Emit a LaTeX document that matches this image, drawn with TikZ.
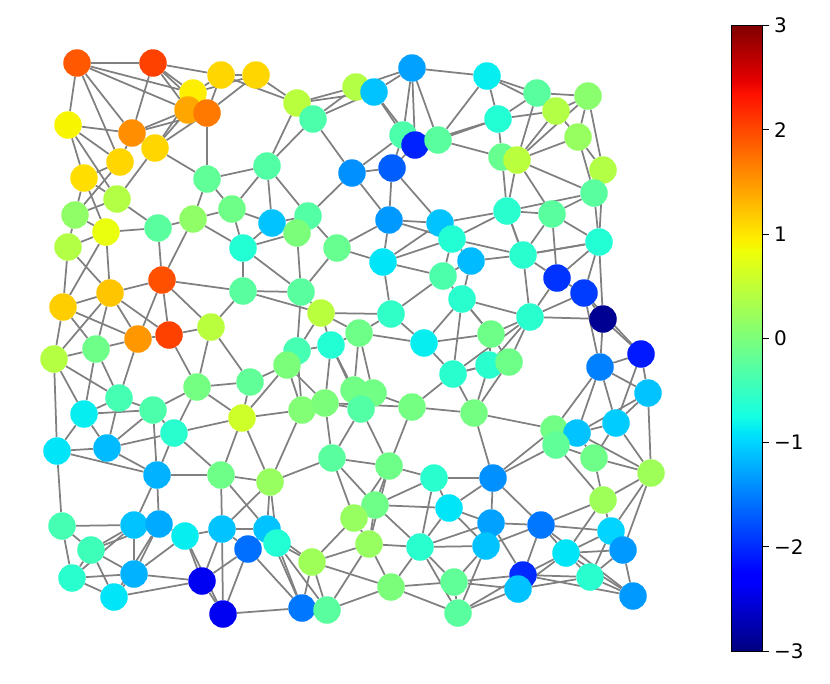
\documentclass[tikz,border=0pt]{standalone}
\usepackage{fontspec}
\setmainfont{DejaVu Sans}
\pgfdeclarelayer{edgelayer}
\pgfsetlayers{edgelayer,main}
\pgfdeclareverticalshading{jetbar}{100bp}{rgb(0bp)=(0,0,0.5); rgb(25bp)=(0,0,0.5); rgb(30.5bp)=(0,0,1); rgb(31.25bp)=(0,0,1); rgb(42bp)=(0,0.86,1); rgb(42.5bp)=(0,0.9,0.97); rgb(43.75bp)=(0.08,1,0.89); rgb(57bp)=(0.94,1,0.03); rgb(57.5bp)=(0.97,0.96,0); rgb(58bp)=(1,0.93,0); rgb(69.5bp)=(1,0.07,0); rgb(70.5bp)=(0.91,0,0); rgb(75bp)=(0.5,0,0); rgb(100bp)=(0.5,0,0)}
\newcommand{\jetset}[1]{%
 \pgfmathsetmacro\jt{(#1+3)/6}%
 \pgfmathsetmacro\jr{max(0,min(1,(\jt-0.35)/0.31,1-0.5*(\jt-0.89)/0.11))}%
 \pgfmathsetmacro\jg{max(0,min(1,(\jt-0.125)/0.25,1-(\jt-0.64)/0.27))}%
 \pgfmathsetmacro\jb{max(0,min(1,0.5+0.5*\jt/0.11,1-(\jt-0.34)/0.31))}%
 \definecolor{jetc}{rgb}{\jr,\jg,\jb}}
\definecolor{edgegray}{RGB}{128,128,128}
\tikzset{
 vert/.style={circle,inner sep=0pt,minimum size=27.5pt,draw=none},
 edgeline/.style={draw=edgegray,line width=1.75pt},
 ticklab/.style={anchor=west,inner sep=0pt,font=\fontsize{20}{24}\selectfont},
 tickline/.style={line width=1pt,black}
}
\begin{document}
\begin{tikzpicture}[x=1pt,y=-1pt]
\useasboundingbox (0,0) rectangle (830,683);
\foreach \n/\px/\py/\v in {
a1/77/63/1.9, a2/153/63/2.05, a3/221/75/1.1, a4/256/75/1.1, a5/193/93/0.95, a6/188/110/1.4, a7/207/113/1.7,
a8/68/125/0.9, a9/132/133/1.55, a10/155/148/1.1, a11/120/162/1.1, a12/84/178/1.05, a13/207/179/-0.2,
a14/117/199/0.4, a15/75/215/0.15, a16/106/232/0.8, a17/158/228/-0.25, a18/193/219/0.15, a19/232/209/-0.1,
a20/267/166/-0.3, a21/68/247/0.4,
b1/297/103/0.45, b2/356/87/0.4, b3/374/92/-1.1, b4/412/68/-1.3, b5/313/119/-0.35, b6/403/135/-0.35,
b7/415/145/-2.05, b8/438/140/-0.25, b9/352/173/-1.4, b10/392/168/-1.7, b11/272/223/-1.1, b12/308/216/-0.3,
b13/297/233/0.0, b14/243/248/-0.65, b15/337/248/-0.15, b16/389/220/-1.35, b17/440/223/-1.1, b18/452/239/-0.65,
c1/487/76/-0.85, c2/537/93/-0.25, c3/588/96/0.1, c4/556/111/0.4, c5/498/119/-0.65, c6/578/137/0.2,
c7/502/157/-0.15, c8/517/160/0.45, c9/603/170/0.4, c10/594/193/-0.25, c11/507/211/-0.6, c12/552/214/-0.25,
c13/599/242/-0.65, c14/523/255/-0.6, c15/471/261/-1.15, c16/383/262/-0.9, c17/443/276/-0.35,
c18/557/278/-1.95, c19/584/293/-1.9, c20/603/319/-2.9,
d1/162/280/1.95, d2/110/293/1.2, d3/63/307/1.15, d4/243/291/-0.25, d5/301/292/-0.25, d6/462/299/-0.6,
d7/321/313/0.45, d8/391/314/-0.55, d9/530/317/-0.6, d10/138/339/1.5, d11/169/335/2.05, d12/211/327/0.45,
d13/96/349/-0.1, d14/54/359/0.42, d15/359/333/-0.1, d16/331/345/-0.65, d17/297/351/-0.4, d18/287/365/0.0,
d19/424/343/-0.85, d20/491/334/-0.1, d21/489/365/-0.6, d22/509/362/-0.1, d23/453/374/-0.6,
d24/641/354/-2.1, d25/600/367/-1.5, d26/648/393/-1.1,
e1/197/387/-0.05, e2/250/382/-0.2, e3/119/398/-0.4, e4/153/410/-0.35, e5/84/414/-0.85, e6/174/433/-0.6,
e7/242/418/0.6, e8/302/410/0.05, e9/325/403/0.0, e10/354/390/-0.07, e11/373/393/-0.07, e12/361/409/-0.3,
e13/412/407/-0.05, e14/474/413/-0.05, e15/554/429/-0.07, e16/577/433/-1.1, e17/616/423/-1.05,
e18/556/445/-0.2, e19/57/451/-0.9, e20/107/448/-1.15,
f1/157/475/-1.2, f2/221/475/-0.1, f3/270/482/0.2, f4/332/458/-0.25, f5/389/466/-0.1, f6/434/478/-0.6,
f7/493/478/-1.4, f8/594/458/-0.1, f9/651/473/0.25, f10/375/505/-0.1, f11/354/518/0.2, f12/449/508/-0.9,
f13/603/500/0.25,
g1/62/526/-0.4, g2/134/525/-1.1, g3/159/524/-1.25, g4/185/536/-0.85, g5/222/529/-1.1, g6/267/529/-1.1,
g7/248/549/-1.6, g8/277/543/-0.65, g9/91/550/-0.45, g10/369/544/0.2, g11/420/547/-0.6, g12/491/523/-1.3,
g13/541/525/-1.55, g14/611/531/-1.0, g15/486/546/-1.1, g16/566/553/-0.9, g17/623/550/-1.35, g18/312/562/0.25,
h1/72/578/-0.6, h2/134/574/-1.2, h3/114/597/-0.9, h4/202/581/-2.4, h5/223/614/-2.4, h6/391/587/0.0,
h7/302/608/-1.55, h8/327/610/-0.25, h9/454/582/-0.2, h10/458/613/-0.25, h11/523/575/-2.0,
h12/518/589/-1.1, h13/590/577/-0.6, h14/633/596/-1.35}
{ \jetset{\v} \node[vert,fill=jetc] (\n) at (\px,\py) {}; }
\begin{pgfonlayer}{edgelayer}
\foreach \u/\w in {
a1/a2, a1/a8, a1/a5, a1/a6, a1/a9, a1/a11,
a2/a3, a2/a5, a2/a6, a2/a7, a2/a9,
a3/a4, a3/a5, a3/a7, a4/a7, a4/a5, a5/a6,
a7/a13, a8/a9, a8/a11, a8/a12, a8/a14,
a9/a6, a9/a7, a9/a10, a9/a11,
a10/a5, a10/a6, a10/a7, a10/a13, a10/a14,
a11/a12, a11/a15, a12/a14, a12/a15, a12/a16,
a13/a20, a13/a19, a13/a18,
a14/a15, a14/a17, a15/a16, a15/a21, a16/a17, a16/a21,
a17/a18, a18/a19, a18/b14, a19/b14, a19/b11, a19/a20,
a4/b1, a3/b1, b1/b2, b1/b3, b1/b5, b5/b2, b5/b3, b2/b3,
b2/b4, b3/b4, b4/c1, b4/b6, b4/b7, b4/b8, b3/b6, b3/b7,
b6/b7, b7/b8, b8/c1, b8/c5, b7/c5, b8/c7,
a20/b1, a20/b5, a20/b11, a20/b12, b5/b9,
b9/b6, b9/b10, b10/b7, b10/b6, b9/b12, b9/b16, b10/b16, b10/b17,
b11/b12, b11/b13, b11/b14, b12/b13, b12/b15, b13/b14,
b16/b17, b16/b15, b16/b18, b16/c16, b17/b18,
b17/c11, b18/c11, b18/c14,
c1/c2, c1/c4, c1/c5, c2/c3, c2/c4, c2/c5, c2/c8,
c3/c4, c3/c8, c4/c8, c6/c8, c5/c4, c4/c6,
c3/c6, c3/c9, c6/c9, c6/c10, c9/c10,
c5/c7, c7/c8, c7/c11, c8/c11, c8/c12, c8/c10,
c10/c11, c10/c12, c11/c12, c10/c13, c9/c13, c12/c13,
c11/c14, c12/c14, c13/c14,
a21/d3, a21/d2, a16/d2, a16/d3, a17/d1, d1/a18,
d1/d2, d1/d4, d1/d10, d1/d11, d1/d12,
d2/d3, d2/d10, d2/d11, d2/d13, d2/d14,
d3/d10, d3/d13, d3/d14,
d10/d11, d10/d13, d10/e3, d11/d12, d11/e1,
d12/d4, d12/e1, d12/e2, d13/d14, d13/e3, d13/e5,
d14/e3, d14/e5, d14/e19, b14/d4,
e1/e2, e1/e4, e1/e6, e1/e7, e2/e7,
e3/e4, e3/e5, e3/e20, e4/e6, e4/f1, e5/e4, e5/e19, e5/e20,
e6/e7, e6/f2, e20/e6, e19/e20, e20/e4,
b13/d5, b14/d5, b15/d5, b15/c16,
c16/b18, c16/b17, c16/c17, c16/d8,
b18/c17, b18/c15, c15/c17, c15/d6, c17/d6, c17/d8,
d4/d5, d4/d7, d5/d7, d5/d17,
d7/d8, d7/d15, d7/d16, d7/d17, d8/d15, d8/d19,
d6/d19, d6/d20, d19/d20, d19/d23,
d15/d16, d15/d19, d15/e10, d15/e11,
d16/d17, d16/e9, d16/e10, d16/e12,
d17/d18, d17/e8, d18/e2, d18/e8, d18/e9, d18/e7,
d23/d6, d23/d9, d23/e13, d23/d21, d23/e14,
e8/e9, e8/e7, e8/f3, e9/e12, e9/e13, e9/f4,
e10/e11, e10/e12, e11/e12, e11/e13,
e12/f4, e12/f5, e13/e14, e13/f5,
c15/c14, c14/c13, c14/c18, c18/c13, c14/d9, c14/c11, c18/c12, c13/c19, c13/c20,
c18/c19, c18/d9, c19/d9, c19/c20, c20/d9, c20/d24, c19/d24, c20/d25, c19/d25,
d6/d9, d6/d20, d9/d20, d9/d22, d9/d21, d20/d22, d20/d21,
d21/d23, d21/e14, d22/e14, d21/d22,
d24/d25, d24/d26, d24/e17, d25/d26, d25/e15, d25/e16, d25/e17, d26/e17, d26/e16, d26/f9,
e14/e15, e14/f7, e15/e16, e16/e17, e15/f7, e15/e18, e16/e18, e17/f8,
e19/f1, e19/g1, e20/f1, e6/f1, f1/f2, f1/g2, f1/g3, f2/g5, f2/f3, f2/g6, f3/g5, f2/e7, e7/f3,
g1/g2, g1/g9, g1/h1, g2/g3, g2/g9, g2/h1, g2/h2, g3/h2, g3/h3, g3/g9, g3/g4,
g4/h4, g4/g5, g4/h2, g4/h5, g5/g6, g5/h4, g5/h5, g5/g7, g6/g7, g7/h4, g7/h5,
g9/h1, g9/h3, g9/h2, h1/h2, h1/h3, h2/h3, h2/h4, h3/h4, h4/h5, h5/h7,
f3/f4, f3/g6, f3/g8, f4/f5, f4/f10, f4/f11, f5/f10, f5/f11, f5/f6, f5/g10,
f6/f10, f6/f12, f6/g11, f6/f7, f10/f12, f10/f11, f10/g11, f10/g10, f11/g10, f11/g18,
f12/g11, f12/g12, g6/g8, g6/g18, g8/g18,
g7/h7, g6/h7, g8/h7, g8/h8,
g10/g11, g10/g18, g10/h6, g10/h8, g11/g12, g11/g15, g11/h6, g11/h9, g11/h10,
g18/h6, g18/h7, g18/h8, h6/h8, h6/h9, h6/h10, h7/h8, h9/h10, h9/g15, h10/g15,
f7/e18, f7/f12, f7/g12, f7/g13,
e16/f8, e16/f9, e18/f8, f8/f9, f8/f13, e17/f9, e18/f13, f9/f13, f9/g17, f9/g14,
f13/g13, f13/g16, f13/g14,
f12/g15, g12/g13, g12/g15, g12/h11, g13/g14, g13/g15, g13/g16, g13/h11, g13/h14,
g14/g16, g14/g17, g14/h13, g16/g17, g16/h11, g16/h12, g16/h13, g16/h14, g17/h14, g17/h13,
h9/h11, h9/h12, h10/h11, h10/h12, h11/h12, h11/h13, h11/h14, h12/h13, h13/h14}
{ \draw[edgeline] (\u) -- (\w); }
\end{pgfonlayer}
% colour bar
\shade[shading=jetbar] (731,651) rectangle (762,25.5);
\draw[line width=1pt] (731,25.5) rectangle (762,651);
\foreach \lab/\ty/\nm in {3/25.5/t3, 2/129.75/t2, 1/234/t1, 0/338.25/t0, −1/442.5/tm1, −2/546.75/tm2, −3/651/tm3}
{ \coordinate (\nm a) at (762,\ty); \coordinate (\nm b) at (769,\ty);
  \draw[tickline] (\nm a) -- (\nm b);
  \node[ticklab] (\nm) at (774,\ty) {\lab}; }
\end{tikzpicture}
\end{document}
